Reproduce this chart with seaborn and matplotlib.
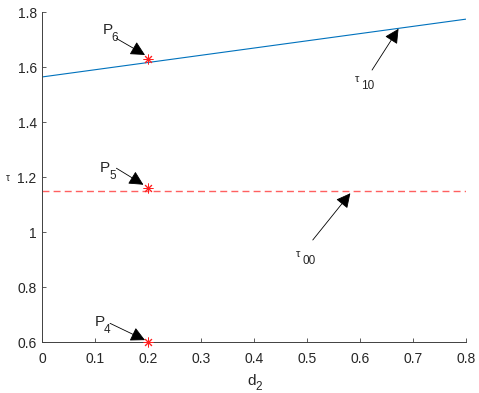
import numpy as np
import matplotlib
matplotlib.use('Agg')
import matplotlib.pyplot as plt
import seaborn as sns

# tau_10 line (linear in d2), tau_00 constant
d2 = [0.0, 0.8]
tau10 = [1.565, 1.775]
tau00 = [1.15, 1.15]

# marked points
pts_x = [0.2, 0.2, 0.2]
pts_y = [1.63, 1.16, 0.60]

xticks = [0, 0.1, 0.2, 0.3, 0.4, 0.5, 0.6, 0.7, 0.8]
xticklabels = ['0', '0.1', '0.2', '0.3', '0.4', '0.5', '0.6', '0.7', '0.8']
yticks = [0.6, 0.8, 1.0, 1.2, 1.4, 1.6, 1.8]
yticklabels = ['0.6', '0.8', '1', '1.2', '1.4', '1.6', '1.8']

sns.set_style("ticks")
plt.rcParams['font.family'] = ['Liberation Sans', 'DejaVu Sans']

axc = '#404040'
txtc = '#262626'
fig = plt.figure(figsize=(4.79, 3.93), dpi=100)
ax = fig.add_axes([0.0883, 0.129, 0.884, 0.8397])

sns.lineplot(x=d2, y=tau10, ax=ax, color='#0072BD', lw=0.8)
ax.plot(d2, tau00, color='#ff6060', lw=1.0, linestyle=(0, (5, 3)))
ax.plot(pts_x, pts_y, linestyle='none', marker=(8, 2, 0), color='#ff2020',
        markersize=7, markeredgewidth=0.7, clip_on=False, zorder=5)

ax.set_xlim(0, 0.8)
ax.set_ylim(0.6, 1.8)
ax.set_xticks(xticks)
ax.set_xticklabels(xticklabels)
ax.set_yticks(yticks)
ax.set_yticklabels(yticklabels)
ax.tick_params(direction='in', length=3, width=0.6, colors=axc, labelsize=10, pad=4)
ax.tick_params(axis='x', pad=7)
for lbl in ax.get_xticklabels() + ax.get_yticklabels():
    lbl.set_color(txtc)
for side in ['top', 'right']:
    ax.spines[side].set_visible(False)
for side in ['left', 'bottom']:
    ax.spines[side].set_color(axc)
    ax.spines[side].set_linewidth(0.7)

ax.set_xlabel('')
ax.set_ylabel('')
# x label d_2 with MATLAB-like subscript
ax.annotate('d', xy=(0.5, 0), xycoords='axes fraction', xytext=(-2, -31),
            textcoords='offset points', fontsize=11, color=txtc, ha='center',
            va='baseline')
ax.annotate('2', xy=(0.5, 0), xycoords='axes fraction', xytext=(3.5, -34.5),
            textcoords='offset points', fontsize=8.5, color=txtc, ha='center',
            va='baseline')
ax.annotate('τ', xy=(0, 0.5), xycoords='axes fraction', xytext=(-26.5, -3),
            textcoords='offset points', fontsize=7, color=txtc, ha='left')

arrow = dict(arrowstyle='-|>,head_length=0.55,head_width=0.28', color='k', lw=0.6,
             mutation_scale=16, shrinkA=0, shrinkB=0)
# (base, sub, text pos, tail, tip)
notes = [
    ('P', '6', (0.114, 1.722), (0.140, 1.705), (0.194, 1.645)),
    ('P', '5', (0.109, 1.219), (0.140, 1.233), (0.191, 1.173)),
    ('P', '4', (0.099, 0.659), (0.128, 0.669), (0.194, 0.608)),
    ('τ', '10', (0.590, 1.548), (0.623, 1.59), (0.673, 1.74)),
    ('τ', '00', (0.480, 0.911), (0.511, 0.972), (0.582, 1.142)),
]
for base, sub, tpos, tail, tip in notes:
    ax.annotate('', xy=tip, xytext=tail, arrowprops=arrow, annotation_clip=False)
    big = base == 'P'
    ax.annotate(base, xy=tpos, xytext=(0, 0), textcoords='offset points',
                fontsize=11 if big else 8, color=txtc, ha='left', va='baseline')
    ax.annotate(sub, xy=tpos, xytext=(6.5 if big else 4.5, -5),
                textcoords='offset points', fontsize=8.5, color=txtc,
                ha='left', va='baseline')

fig.savefig('out.png', dpi=100)
